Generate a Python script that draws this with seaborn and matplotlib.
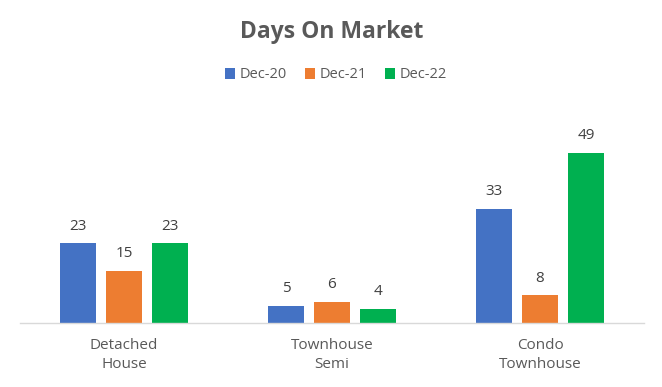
"""Days on market by property type, grouped bars."""

import matplotlib
matplotlib.use("Agg")
import matplotlib.pyplot as plt
import pandas as pd
import seaborn as sns

CATEGORIES = ["Detached\nHouse", "Townhouse\nSemi", "Condo\nTownhouse"]
PERIODS = ["Dec-20", "Dec-21", "Dec-22"]
DEC_20 = [23, 5, 33]
DEC_21 = [15, 6, 8]
DEC_22 = [23, 4, 49]

BLUE = "#4472C4"
ORANGE = "#ED7D31"
GREEN = "#00B050"
GREY = "#595959"

sns.set_theme(style="white")
plt.rcParams["font.family"] = ["Open Sans", "DejaVu Sans"]

data = pd.DataFrame(
    {
        "category": CATEGORIES * 3,
        "period": [p for p in PERIODS for _ in CATEGORIES],
        "days": DEC_20 + DEC_21 + DEC_22,
    }
)

fig = plt.figure(figsize=(6.62, 3.87), dpi=100)
ax = fig.add_axes([20 / 662, 64 / 387, 624 / 662, 208 / 387])
sns.barplot(
    data=data,
    x="category",
    y="days",
    hue="period",
    order=CATEGORIES,
    hue_order=PERIODS,
    palette=[BLUE, ORANGE, GREEN],
    width=0.665,
    gap=0.22,
    saturation=1,
    linewidth=0,
    ax=ax,
)

for container in ax.containers:
    ax.bar_label(container, padding=7, fontsize=11, color="#404040")

ax.set_xlim(-0.5, 2.5)
ax.set_ylim(0, 60)
ax.set_xlabel("")
ax.set_ylabel("")
ax.set_yticks([])
ax.tick_params(axis="x", length=0, labelsize=11, labelcolor=GREY, pad=11)
for label in ax.get_xticklabels():
    label.set_linespacing(1.35)
for side in ["top", "right", "left"]:
    ax.spines[side].set_visible(False)
ax.spines["bottom"].set_color("#D9D9D9")
ax.spines["bottom"].set_linewidth(1)

ax.legend(
    loc="center",
    bbox_to_anchor=(336 / 662, 1 - 75 / 387),
    bbox_transform=fig.transFigure,
    ncol=3,
    frameon=False,
    fontsize=10.5,
    handlelength=0.7,
    handleheight=0.7,
    handletextpad=0.35,
    columnspacing=1.2,
    labelcolor=GREY,
)

fig.text(
    332 / 662,
    1 - 32 / 387,
    "Days On Market",
    ha="center",
    va="center",
    fontsize=16.5,
    fontweight="bold",
    color=GREY,
)

fig.savefig("out.png", dpi=100, facecolor="white")
